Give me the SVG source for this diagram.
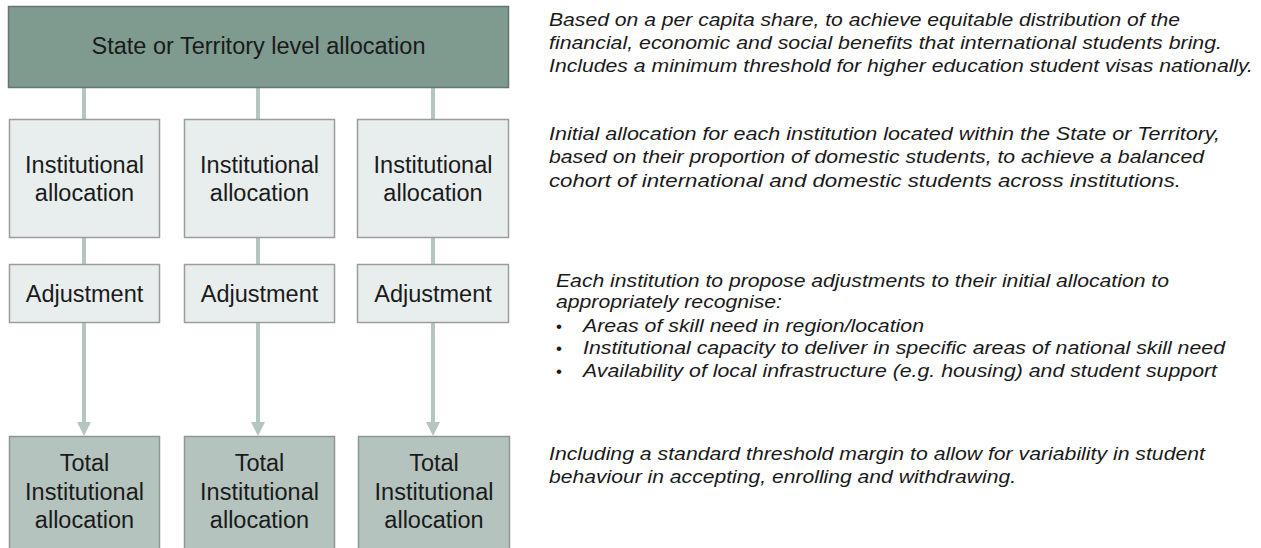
<svg xmlns="http://www.w3.org/2000/svg" width="1261" height="548" viewBox="0 0 1261 548">
<defs>
<style>
.top{fill:#7f9a8f;stroke:#66766f;stroke-width:1.5}
.inst{fill:#e8eeed;stroke:#9c9c9c;stroke-width:1.5}
.tot{fill:#b4c3bd;stroke:#8f9792;stroke-width:1.5}
.bt{font-family:"Liberation Sans",Arial,sans-serif;font-size:23.5px;fill:#1a1a1a;text-anchor:middle}
.rt{font-family:"Liberation Sans",Arial,sans-serif;font-size:18.5px;font-style:italic;fill:#1a1a1a}
.bu{font-family:"Liberation Sans",Arial,sans-serif;font-size:17px;fill:#1a1a1a}
.ln{stroke:#b5c5c0;stroke-width:4;fill:none}
.ah{fill:#b5c5c0}
</style>
</defs>
<g id="connectors">
<line class="ln" x1="84" y1="88" x2="84" y2="119"/>
<line class="ln" x1="258" y1="88" x2="258" y2="119"/>
<line class="ln" x1="433" y1="88" x2="433" y2="119"/>
<line class="ln" x1="84" y1="238" x2="84" y2="264"/>
<line class="ln" x1="258" y1="238" x2="258" y2="264"/>
<line class="ln" x1="433" y1="238" x2="433" y2="264"/>
<line class="ln" x1="84" y1="323" x2="84" y2="424"/>
<line class="ln" x1="258" y1="323" x2="258" y2="424"/>
<line class="ln" x1="433" y1="323" x2="433" y2="424"/>
<path class="ah" d="M77,422 L91,422 L84,436 Z"/>
<path class="ah" d="M251,422 L265,422 L258,436 Z"/>
<path class="ah" d="M426,422 L440,422 L433,436 Z"/>
</g>
<g id="state">
<rect class="top" x="8.5" y="6.5" width="500" height="81"/>
<text class="bt" x="258.5" y="54">State or Territory level allocation</text>
</g>
<g id="inst1"><rect class="inst" x="9.5" y="119.5" width="150" height="118"/><text class="bt" x="84.5" y="173">Institutional</text><text class="bt" x="84.5" y="201">allocation</text></g>
<g id="inst2"><rect class="inst" x="184.5" y="119.5" width="150" height="118"/><text class="bt" x="259.5" y="173">Institutional</text><text class="bt" x="259.5" y="201">allocation</text></g>
<g id="inst3"><rect class="inst" x="357.5" y="119.5" width="151" height="118"/><text class="bt" x="433" y="173">Institutional</text><text class="bt" x="433" y="201">allocation</text></g>
<g id="adj1"><rect class="inst" x="9.5" y="264.5" width="150" height="58"/><text class="bt" x="84.5" y="302">Adjustment</text></g>
<g id="adj2"><rect class="inst" x="184.5" y="264.5" width="150" height="58"/><text class="bt" x="259.5" y="302">Adjustment</text></g>
<g id="adj3"><rect class="inst" x="357.5" y="264.5" width="151" height="58"/><text class="bt" x="433" y="302">Adjustment</text></g>
<g id="tot1"><rect class="tot" x="9.5" y="436.5" width="150" height="120"/><text class="bt" x="84.5" y="471">Total</text><text class="bt" x="84.5" y="500">Institutional</text><text class="bt" x="84.5" y="528">allocation</text></g>
<g id="tot2"><rect class="tot" x="184.5" y="436.5" width="150" height="120"/><text class="bt" x="259.5" y="471">Total</text><text class="bt" x="259.5" y="500">Institutional</text><text class="bt" x="259.5" y="528">allocation</text></g>
<g id="tot3"><rect class="tot" x="358.5" y="436.5" width="151" height="120"/><text class="bt" x="434" y="471">Total</text><text class="bt" x="434" y="500">Institutional</text><text class="bt" x="434" y="528">allocation</text></g>
<g id="notes">
<text class="rt" x="549" y="26" textLength="631" lengthAdjust="spacingAndGlyphs">Based on a per capita share, to achieve equitable distribution of the</text>
<text class="rt" x="549" y="49" textLength="673" lengthAdjust="spacingAndGlyphs">financial, economic and social benefits that international students bring.</text>
<text class="rt" x="549" y="72" textLength="704" lengthAdjust="spacingAndGlyphs">Includes a minimum threshold for higher education student visas nationally.</text>
<text class="rt" x="549" y="140" textLength="671" lengthAdjust="spacingAndGlyphs">Initial allocation for each institution located within the State or Territory,</text>
<text class="rt" x="549" y="163" textLength="655" lengthAdjust="spacingAndGlyphs">based on their proportion of domestic students, to achieve a balanced</text>
<text class="rt" x="549" y="187" textLength="632" lengthAdjust="spacingAndGlyphs">cohort of international and domestic students across institutions.</text>
<text class="rt" x="556" y="287" textLength="613" lengthAdjust="spacingAndGlyphs">Each institution to propose adjustments to their initial allocation to</text>
<text class="rt" x="556" y="308" textLength="226" lengthAdjust="spacingAndGlyphs">appropriately recognise:</text>
<text class="bu" x="556" y="332">•</text>
<text class="rt" x="583" y="332" textLength="341" lengthAdjust="spacingAndGlyphs">Areas of skill need in region/location</text>
<text class="bu" x="556" y="354">•</text>
<text class="rt" x="583" y="354" textLength="642" lengthAdjust="spacingAndGlyphs">Institutional capacity to deliver in specific areas of national skill need</text>
<text class="bu" x="556" y="377">•</text>
<text class="rt" x="583" y="377" textLength="634" lengthAdjust="spacingAndGlyphs">Availability of local infrastructure (e.g. housing) and student support</text>
<text class="rt" x="549" y="460" textLength="656" lengthAdjust="spacingAndGlyphs">Including a standard threshold margin to allow for variability in student</text>
<text class="rt" x="549" y="483" textLength="467" lengthAdjust="spacingAndGlyphs">behaviour in accepting, enrolling and withdrawing.</text>
</g>
</svg>
